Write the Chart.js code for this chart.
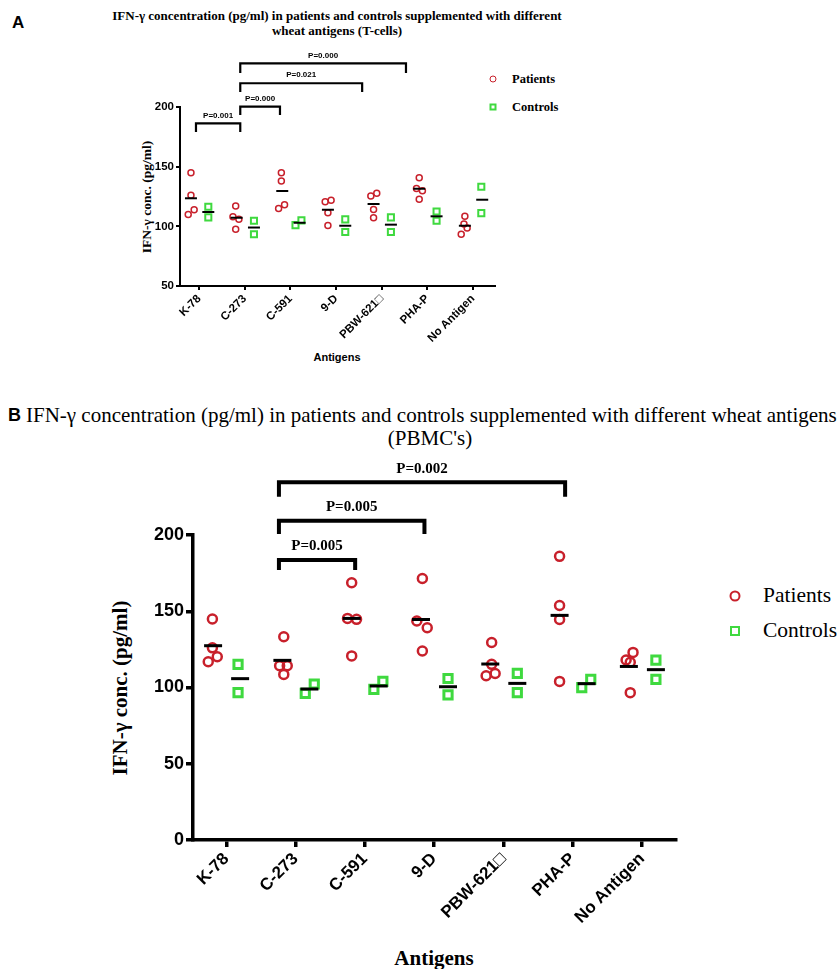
<!DOCTYPE html>
<html>
<head>
<meta charset="utf-8">
<script src="https://cdn.jsdelivr.net/npm/chart.js@4.4.1/dist/chart.umd.min.js"></script>
<style>
  body { margin: 0; background: #fff; }
  #wrap { position: relative; width: 839px; height: 969px; overflow: hidden; background: #fff; }
  canvas { position: absolute; left: 0; }
  .t { position: absolute; white-space: nowrap; color: #000; line-height: 1; }
  .c { transform: translate(-50%, -50%); }
  .l { transform: translate(0, -50%); }
  .v { transform: translate(-50%, -50%) rotate(-90deg); }
  .serif { font-family: "Liberation Serif", "Times New Roman", serif; }
  .sans { font-family: "Liberation Sans", Arial, sans-serif; }
  .dot { position: absolute; box-sizing: border-box; transform: translate(-50%, -50%); }
</style>
</head>
<body>
<div id="wrap">
  <!-- panel A -->
  <div class="t sans l" style="left:12px;top:22px;font-size:17px;font-weight:bold;">A</div>
  <div class="t serif c" style="left:337px;top:15px;font-size:13px;font-weight:bold;">IFN-γ concentration (pg/ml) in patients and controls supplemented with different</div>
  <div class="t serif c" style="left:337px;top:30px;font-size:13px;font-weight:bold;">wheat antigens (T-cells)</div>
  <div class="t serif v" style="left:147px;top:197px;font-size:13.5px;font-weight:bold;">IFN-γ conc. (pg/ml)</div>
  <div class="t sans c" style="left:337px;top:357px;font-size:11px;font-weight:bold;">Antigens</div>
  <div class="dot" style="left:493px;top:79px;width:7px;height:7px;border:1.5px solid #c8202b;border-radius:50%;"></div>
  <div class="t serif l" style="left:512px;top:79px;font-size:12.5px;font-weight:bold;">Patients</div>
  <div class="dot" style="left:493px;top:107px;width:7px;height:7px;border:2px solid #3fd93f;"></div>
  <div class="t serif l" style="left:512px;top:107px;font-size:12.5px;font-weight:bold;">Controls</div>

  <!-- panel B -->
  <div class="t sans l" style="left:8px;top:415px;font-size:18px;font-weight:bold;">B</div>
  <div class="t serif l" style="left:26px;top:415px;font-size:21px;">IFN-γ concentration (pg/ml) in patients and controls supplemented with different wheat antigens</div>
  <div class="t serif c" style="left:430px;top:438px;font-size:21px;">(PBMC's)</div>
  <div class="t serif v" style="left:120px;top:688px;font-size:21px;font-weight:bold;">IFN-γ conc. (pg/ml)</div>
  <div class="t serif c" style="left:434px;top:958px;font-size:21px;font-weight:bold;">Antigens</div>
  <div class="dot" style="left:735px;top:596px;width:11px;height:11px;border:2.5px solid #c8202b;border-radius:50%;"></div>
  <div class="t serif l" style="left:763px;top:596px;font-size:21.5px;">Patients</div>
  <div class="dot" style="left:735px;top:631px;width:10px;height:10px;border:2.5px solid #3fd93f;"></div>
  <div class="t serif l" style="left:763px;top:631px;font-size:21.5px;">Controls</div>

  <canvas id="chartA" width="600" height="370" style="top:0;"></canvas>
  <canvas id="chartB" width="839" height="589" style="top:380px;"></canvas>
</div>

<script>
// カテゴリ (x軸)
const antigens = ['K-78', 'C-273', 'C-591', '9-D', 'PBW-621\u25A1', 'PHA-P', 'No Antigen'];

// パネルA: T細胞 (pg/ml)
const tPatients = [
    [145, 126, 110, 114],
    [117, 108, 106, 97.5],
    [145, 138, 115, 118],
    [120.6, 121.8, 111.4, 100.8],
    [125.4, 127.7, 114.2, 107.2],
    [140.7, 131.8, 129.8, 122.6],
    [108.4, 101.9, 98.5, 93.3]
];
const tPatientMeans = [123.5, 107.2, 129.6, 113.9, 118.7, 131.5, 100.5];
const tControls = [
    [116.4, 107.5],
    [104.7, 93.3],
    [101, 105],
    [105.8, 95.2],
    [107.5, 95.2],
    [112.5, 104.7],
    [133.2, 111.1]
];
const tControlMeans = [112, 99, 103, 100.5, 101.4, 108.4, 122.3];
const tPatientJitter = [
    [-0.18, -0.18, -0.24, -0.11],
    [-0.2, -0.26, -0.13, -0.2],
    [-0.2, -0.2, -0.26, -0.13],
    [-0.24, -0.11, -0.18, -0.18],
    [-0.24, -0.11, -0.18, -0.18],
    [-0.18, -0.24, -0.11, -0.18],
    [-0.18, -0.2, -0.13, -0.26]
];
const tControlJitter = [
    [0.2, 0.2], [0.2, 0.2], [0.11, 0.24], [0.2, 0.2], [0.2, 0.2], [0.2, 0.2], [0.18, 0.18]
];
const tYTicks = [50, 100, 150, 200];
const tBracketLabels = ['P=0.001', 'P=0.000', 'P=0.021', 'P=0.000'];
const tBracketSpans = [[-0.07, 0.9], [0.9, 1.77], [0.9, 3.57], [0.9, 4.53]];
const tBracketLevels = [[186.3, 179], [200.3, 193.3], [219.9, 212.6], [236.6, 228.5]];

// パネルB: PBMC (pg/ml)
const pPatients = [
    [144.9, 126, 116.9, 120.2],
    [133.3, 114.3, 114.3, 108.6],
    [168.7, 145.3, 144.7, 120.7],
    [171.5, 143.6, 139.2, 123.9],
    [129.5, 115.2, 107.7, 109.2],
    [186, 153.8, 144.6, 104],
    [123, 118, 116.5, 96.6]
];
const pPatientMeans = [127.4, 117.8, 145.3, 144.6, 115.4, 147.3, 113.8];
const pControls = [
    [115.2, 96.7],
    [96.1, 102.3],
    [98.8, 104],
    [105.9, 95.1],
    [109.2, 96.6],
    [99.9, 105.3],
    [118, 105.3]
];
const pControlMeans = [105.8, 99, 101, 100.5, 102.7, 102.5, 111.7];
const pPatientJitter = [
    [-0.2, -0.2, -0.26, -0.13],
    [-0.17, -0.23, -0.12, -0.17],
    [-0.19, -0.25, -0.12, -0.19],
    [-0.17, -0.25, -0.1, -0.17],
    [-0.17, -0.17, -0.25, -0.12],
    [-0.19, -0.19, -0.19, -0.19],
    [-0.13, -0.23, -0.17, -0.17]
];
const pControlJitter = [
    [0.17, 0.17], [0.14, 0.27], [0.13, 0.26], [0.2, 0.2], [0.2, 0.2], [0.13, 0.26], [0.2, 0.2]
];
const pYTicks = [0, 50, 100, 150, 200];
const pBracketLabels = ['P=0.005', 'P=0.005', 'P=0.002'];
const pBracketSpans = [[0.76, 1.86], [0.76, 2.86], [0.76, 4.89]];
const pBracketLevels = [[183.6, 177], [209.4, 200.7], [234.6, 225.1]];

const RED = '#c8202b';
const GREEN = '#3fd93f';
const SANS = '"Liberation Sans", Arial, sans-serif';
const SERIF = '"Liberation Serif", "Times New Roman", serif';

function toPoints(groups, jitter) {
    const pts = [];
    groups.forEach((vals, i) => {
        vals.forEach((v, j) => pts.push({ x: i + jitter[i][j], y: v }));
    });
    return pts;
}

function toMeanPoints(means, shift) {
    return means.map((v, i) => ({ x: i + shift, y: v }));
}

// 有意差ブラケットの描画
const bracketPlugin = {
    id: 'brackets',
    afterDatasetsDraw(chart, args, opts) {
        const ctx = chart.ctx;
        const sx = chart.scales.x;
        const sy = chart.scales.y;
        ctx.save();
        ctx.strokeStyle = '#000';
        ctx.fillStyle = '#000';
        ctx.lineWidth = opts.lineWidth;
        ctx.lineJoin = 'miter';
        ctx.font = opts.font;
        ctx.textAlign = 'center';
        ctx.textBaseline = 'bottom';
        opts.labels.forEach((label, k) => {
            const x1 = sx.getPixelForValue(opts.spans[k][0]);
            const x2 = sx.getPixelForValue(opts.spans[k][1]);
            const yTop = sy.getPixelForValue(opts.levels[k][0]);
            const yLeg = sy.getPixelForValue(opts.levels[k][1]);
            ctx.beginPath();
            ctx.moveTo(x1, yLeg);
            ctx.lineTo(x1, yTop);
            ctx.lineTo(x2, yTop);
            ctx.lineTo(x2, yLeg);
            ctx.stroke();
            ctx.fillText(label, (x1 + x2) / 2, yTop - opts.gap);
        });
        ctx.restore();
    }
};

function buildChart(canvasId, cfg) {
    const ctx = document.getElementById(canvasId).getContext('2d');
    return new Chart(ctx, {
        type: 'scatter',
        data: {
            datasets: [
                {
                    label: 'Patients mean',
                    data: toMeanPoints(cfg.patientMeans, cfg.meanShift[0]),
                    pointStyle: 'line',
                    pointRadius: cfg.meanHalf,
                    borderColor: '#000',
                    borderWidth: cfg.meanWidth
                },
                {
                    label: 'Controls mean',
                    data: toMeanPoints(cfg.controlMeans, cfg.meanShift[1]),
                    pointStyle: 'line',
                    pointRadius: cfg.meanHalf,
                    borderColor: '#000',
                    borderWidth: cfg.meanWidth
                },
                {
                    label: 'Patients',
                    data: toPoints(cfg.patients, cfg.patientJitter),
                    pointStyle: 'circle',
                    pointRadius: cfg.circleR,
                    borderColor: RED,
                    backgroundColor: 'rgba(255,255,255,0)',
                    borderWidth: cfg.markerWidth
                },
                {
                    label: 'Controls',
                    data: toPoints(cfg.controls, cfg.controlJitter),
                    pointStyle: 'rect',
                    pointRadius: cfg.rectR,
                    borderColor: GREEN,
                    backgroundColor: '#fff',
                    borderWidth: cfg.markerWidth + 0.5
                }
            ]
        },
        options: {
            responsive: false,
            animation: false,
            events: [],
            layout: { padding: cfg.padding },
            plugins: {
                legend: { display: false },
                tooltip: { enabled: false },
                brackets: {
                    labels: cfg.bracketLabels,
                    spans: cfg.bracketSpans,
                    levels: cfg.bracketLevels,
                    lineWidth: cfg.bracketWidth,
                    font: cfg.bracketFont,
                    gap: cfg.bracketGap
                }
            },
            scales: {
                x: {
                    type: 'linear',
                    min: cfg.xRange[0],
                    max: cfg.xRange[1],
                    afterBuildTicks: s => { s.ticks = antigens.map((_, i) => ({ value: i })); },
                    afterFit: s => { s.height = cfg.xAxisHeight; },
                    ticks: {
                        callback: v => antigens[v],
                        minRotation: 45,
                        maxRotation: 45,
                        autoSkip: false,
                        padding: cfg.tickPad,
                        color: '#000',
                        font: { family: SANS, size: cfg.xTickSize, weight: 'bold' }
                    },
                    grid: { drawOnChartArea: false, drawTicks: true, tickLength: cfg.tickLen, color: '#000', lineWidth: cfg.axisWidth },
                    border: { display: true, color: '#000', width: cfg.axisWidth }
                },
                y: {
                    min: cfg.yTicks[0],
                    max: cfg.yTicks[cfg.yTicks.length - 1],
                    afterBuildTicks: s => { s.ticks = cfg.yTicks.map(v => ({ value: v })); },
                    afterFit: s => { s.width = cfg.yAxisWidth; },
                    ticks: {
                        padding: cfg.tickPad,
                        color: '#000',
                        font: { family: SANS, size: cfg.yTickSize, weight: 'bold' }
                    },
                    grid: { drawOnChartArea: false, drawTicks: true, tickLength: cfg.tickLen, color: '#000', lineWidth: cfg.axisWidth },
                    border: { display: true, color: '#000', width: cfg.axisWidth }
                }
            }
        },
        plugins: [bracketPlugin]
    });
}

document.addEventListener('DOMContentLoaded', function() {
    buildChart('chartA', {
        patients: tPatients, patientMeans: tPatientMeans, patientJitter: tPatientJitter,
        controls: tControls, controlMeans: tControlMeans, controlJitter: tControlJitter,
        yTicks: tYTicks,
        bracketLabels: tBracketLabels, bracketSpans: tBracketSpans, bracketLevels: tBracketLevels,
        meanShift: [-0.18, 0.2], meanHalf: 6, meanWidth: 2,
        circleR: 3, rectR: 4.3, markerWidth: 1.5,
        padding: { top: 107, right: 105, left: 0, bottom: 0 },
        xRange: [-0.42, 6.48], xAxisHeight: 84, yAxisWidth: 180,
        tickLen: 4, tickPad: 2, axisWidth: 2,
        xTickSize: 11.5, yTickSize: 11.5,
        bracketWidth: 2.2, bracketFont: 'bold 8px ' + SANS, bracketGap: 4
    });

    buildChart('chartB', {
        patients: pPatients, patientMeans: pPatientMeans, patientJitter: pPatientJitter,
        controls: pControls, controlMeans: pControlMeans, controlJitter: pControlJitter,
        yTicks: pYTicks,
        bracketLabels: pBracketLabels, bracketSpans: pBracketSpans, bracketLevels: pBracketLevels,
        meanShift: [-0.19, 0.2], meanHalf: 9, meanWidth: 3,
        circleR: 4.5, rectR: 5.8, markerWidth: 2.5,
        padding: { top: 155, right: 163, left: 0, bottom: 0 },
        xRange: [-0.48, 6.49], xAxisHeight: 129, yAxisWidth: 193,
        tickLen: 7, tickPad: 2, axisWidth: 3.5,
        xTickSize: 17, yTickSize: 18,
        bracketWidth: 4, bracketFont: 'bold 15px ' + SERIF, bracketGap: 6
    });
});
</script>
</body>
</html>
